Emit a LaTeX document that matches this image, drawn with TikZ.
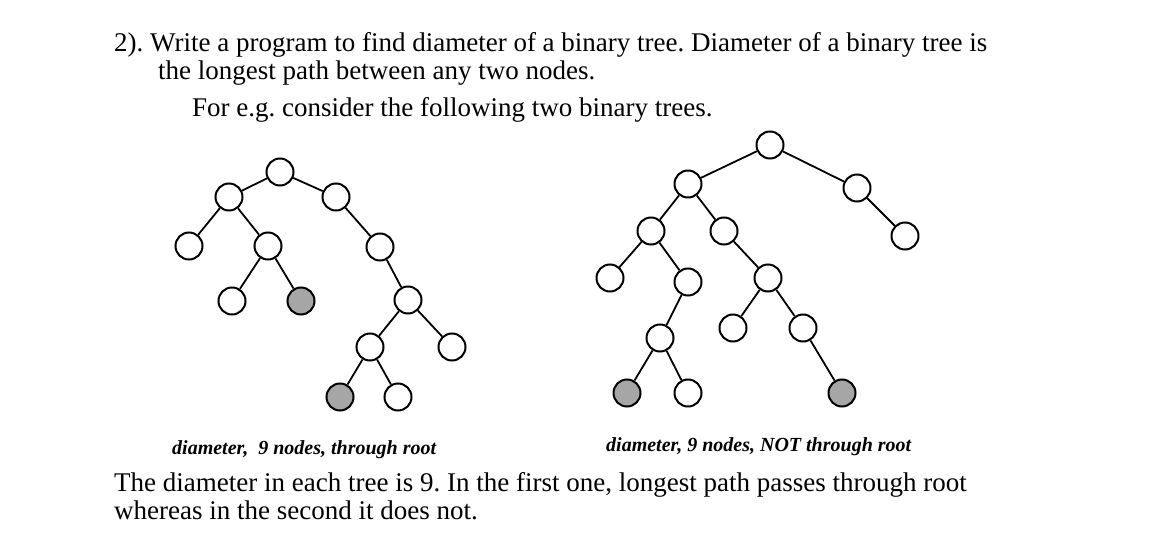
\documentclass[tikz,border=0pt]{standalone}
\usepackage{fontspec}
\setmainfont{Liberation Serif}
\begin{document}
\frenchspacing
\begin{tikzpicture}[x=1pt,y=-1pt,
 nd/.style={circle,draw,line width=2pt,minimum size=27pt,inner sep=0pt,fill=white},
 gn/.style={nd,fill=gray!70},
 tx/.style={anchor=base west,inner sep=0pt,font=\fontsize{27}{30}\selectfont},
 captext/.style={anchor=base west,inner sep=0pt,font=\fontsize{20}{22}\selectfont\bfseries\itshape}]
\useasboundingbox (0,0) rectangle (1170,556);
\node[tx] (t1) at (114,52) {2). Write a program to find diameter of a binary tree. Diameter of a binary tree is};
\node[tx] (t2) at (158,80) {the longest path between any two nodes.};
\node[tx] (t3) at (192,117) {For e.g. consider the following two binary trees.};
\node[captext] (c1) at (172,454) {diameter,\ \ 9 nodes, through root};
\node[captext] (c2) at (606,451) {diameter, 9 nodes, NOT through root};
\node[tx] (t4) at (114,491) {The diameter in each tree is 9. In the first one, longest path passes through root};
\node[tx] (t5) at (114,519) {whereas in the second it does not.};
% left tree
\foreach \n/\x/\y in {a/280/172,b/229/197,c/336/197,d/189/246,e/268/246,f/232/301,h/380/247,i/408/300,j/370/347,k/452/347,m/398/397}
  \node[nd] (\n) at (\x,\y) {};
\node[gn] (g) at (301,301) {};
\node[gn] (l) at (340,397) {};
\draw[line width=1.8pt] (a)--(b) (a)--(c) (b)--(d) (b)--(e) (e)--(f) (e)--(g) (c)--(h) (h)--(i) (i)--(j) (i)--(k) (j)--(l) (j)--(m);
% right tree
\foreach \n/\x/\y in {A/770/145,B/688/184,C/857/188,D/905/236,E/651/231,F/724/231,G/610/278,H/688/282,I/660/338,K/688/393,L/768/278,M/733/328,N/803/328}
  \node[nd] (\n) at (\x,\y) {};
\node[gn] (J) at (627,393) {};
\node[gn] (O) at (842,393) {};
\draw[line width=1.8pt] (A)--(B) (A)--(C) (C)--(D) (B)--(E) (B)--(F) (E)--(G) (E)--(H) (H)--(I) (I)--(J) (I)--(K) (F)--(L) (L)--(M) (L)--(N) (N)--(O);
\end{tikzpicture}
\end{document}
